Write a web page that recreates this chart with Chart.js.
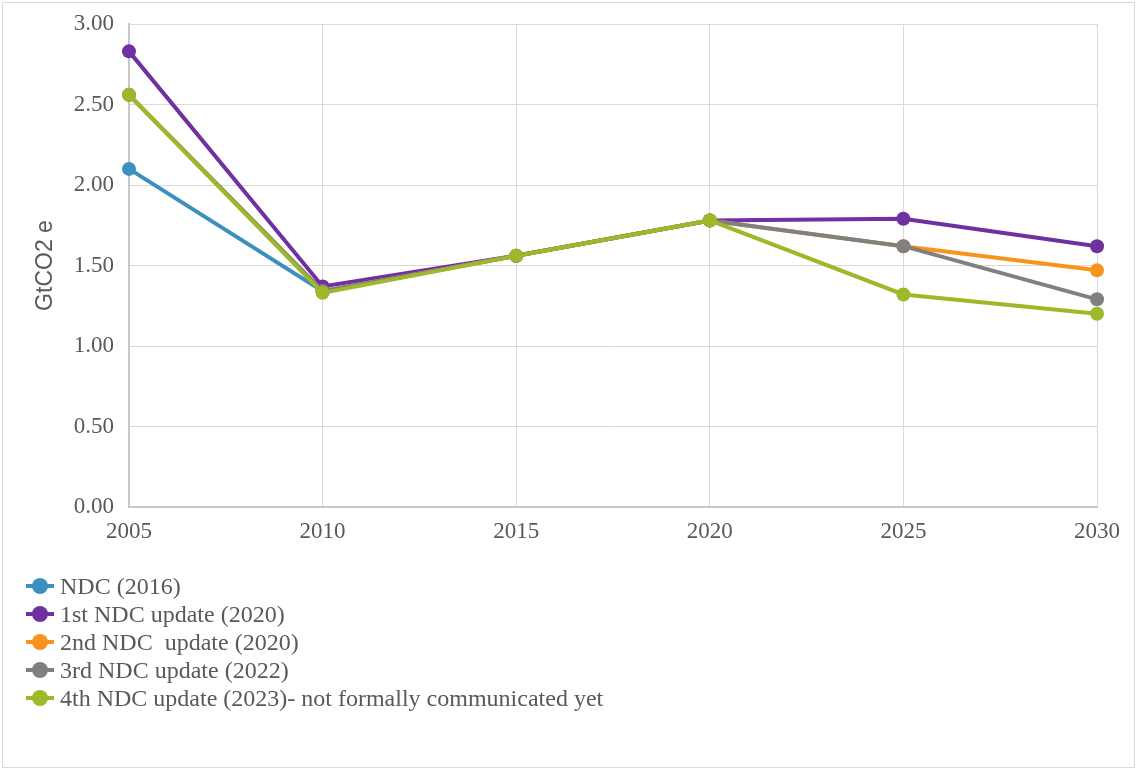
<!DOCTYPE html>
<html>
<head>
<meta charset="utf-8">
<script src="https://cdn.jsdelivr.net/npm/chart.js@4.4.1/dist/chart.umd.min.js"></script>
<style>
  html, body { margin: 0; padding: 0; background: #fff; }
  body { width: 1137px; height: 771px; position: relative; overflow: hidden; }
  #frame { position: absolute; left: 2px; top: 2px; width: 1131px; height: 764px; border: 1px solid #d9d9d9; }
  #chart { position: absolute; left: 0; top: 0; }
  #legend { position: absolute; left: 26px; top: 572px; font-family: "Liberation Serif", serif; font-size: 24px; color: #595959; }
  .item { height: 28px; line-height: 28px; display: flex; align-items: center; white-space: pre; }
  .mark { position: relative; width: 28px; height: 28px; margin-right: 6px; flex: none; }
  .mark .ln { position: absolute; left: 0; top: 12px; width: 28px; height: 4px; }
  .mark .dot { position: absolute; left: 6px; top: 6px; width: 16px; height: 16px; border-radius: 50%; }
</style>
</head>
<body>
<div id="frame"></div>
<canvas id="chart" width="1137" height="771"></canvas>
<div id="legend"></div>
<script>
// valeurs (GtCO2 e)
const years = ['2005', '2010', '2015', '2020', '2025', '2030'];
const ndc2016 = [2.10, 1.34, 1.56, 1.78, null, null];
const update1 = [2.83, 1.37, 1.56, 1.78, 1.79, 1.62];
const update2 = [2.56, 1.34, 1.56, 1.78, 1.62, 1.47];
const update3 = [2.56, 1.34, 1.56, 1.78, 1.62, 1.29];
const update4 = [2.56, 1.33, 1.56, 1.78, 1.32, 1.20];
const seriesNames = [
  'NDC (2016)',
  '1st NDC update (2020)',
  '2nd NDC  update (2020)',
  '3rd NDC update (2022)',
  '4th NDC update (2023)- not formally communicated yet'
];
const seriesColors = ['#3d8fbf', '#7030a0', '#f7941d', '#808080', '#9db92a'];
const yTicks = [0, 0.5, 1, 1.5, 2, 2.5, 3];

const allSeries = [ndc2016, update1, update2, update3, update4];

const datasets = allSeries.map(function(values, i) {
  return {
    label: seriesNames[i],
    data: values,
    borderColor: seriesColors[i],
    backgroundColor: seriesColors[i],
    borderWidth: 4,
    pointRadius: 7,
    pointHoverRadius: 7,
    pointBorderWidth: 0,
    tension: 0,
    // le dernier doit être dessiné au-dessus
    order: allSeries.length - i
  };
});

const tickFont = { family: 'Liberation Serif', size: 23 };

new Chart(document.getElementById('chart').getContext('2d'), {
  type: 'line',
  data: { labels: years, datasets: datasets },
  options: {
    responsive: false,
    animation: false,
    events: [],
    layout: { padding: { left: 0, top: 24, right: 40, bottom: 0 } },
    plugins: {
      legend: { display: false },
      tooltip: { enabled: false }
    },
    scales: {
      x: {
        offset: false,
        grid: { color: '#d9d9d9', lineWidth: 1, drawTicks: false },
        border: { color: '#c8c8c8', width: 2 },
        ticks: { font: tickFont, color: '#595959', padding: 11, maxRotation: 0 },
        afterFit: function(scale) { scale.height = 264; }
      },
      y: {
        min: 0,
        max: 3,
        afterBuildTicks: function(scale) { scale.ticks = yTicks.map(v => ({ value: v })); },
        grid: { color: '#d9d9d9', lineWidth: 1, drawTicks: false },
        border: { color: '#c8c8c8', width: 2 },
        ticks: {
          font: { family: 'Liberation Serif', size: 23, lineHeight: 1 },
          color: '#595959',
          padding: 15,
          callback: function(v) { return Number(v).toFixed(2); }
        },
        title: {
          display: true,
          text: 'GtCO2 e',
          color: '#595959',
          font: { family: 'Liberation Sans', size: 23 },
          padding: { top: 32, bottom: 0 }
        },
        afterFit: function(scale) {
          scale.width = 129;
          // pas de débordement des étiquettes en haut
          scale.paddingTop = 0;
        }
      }
    }
  }
});

// légende verticale comme dans l'original
const legendEl = document.getElementById('legend');
seriesNames.forEach(function(name, i) {
  const row = document.createElement('div');
  row.className = 'item';
  row.innerHTML = '<span class="mark"><span class="ln" style="background:' + seriesColors[i] +
    '"></span><span class="dot" style="background:' + seriesColors[i] + '"></span></span>';
  const txt = document.createElement('span');
  txt.textContent = name;
  row.appendChild(txt);
  legendEl.appendChild(row);
});
</script>
</body>
</html>
